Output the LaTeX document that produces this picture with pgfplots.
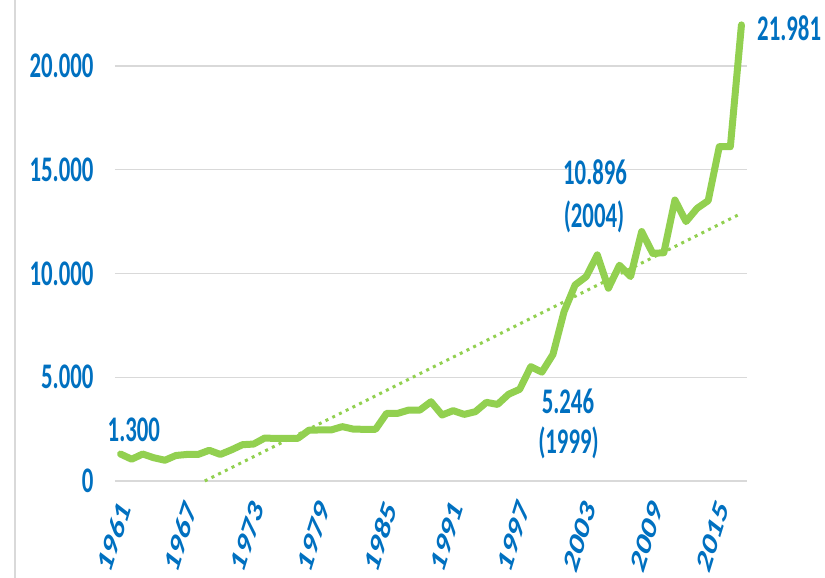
\documentclass[border=0pt]{standalone}
\usepackage{graphicx}
\usepackage{fontspec}
\setmainfont{Carlito}
\usepackage{pgfplots}
\pgfplotsset{compat=1.18}
\definecolor{lblue}{HTML}{0070C0}
\definecolor{lgreen}{HTML}{92D050}
\definecolor{gridc}{HTML}{D9D9D9}
\newcommand\st[1]{\scalebox{1}[1.58]{#1}}
\newcommand\xl[1]{\scalebox{1}[1.58]{\rotatebox{64}{#1}}}
\begin{document}
\begin{tikzpicture}
\useasboundingbox (0,0) rectangle (825pt,578pt);
\draw[gridc, line width=1.5pt] (15pt,0) -- (15pt,578pt);
\begin{axis}[
  at={(115pt,97pt)}, anchor=south west,
  scale only axis, width=632pt, height=481pt,
  xmin=1960.5, xmax=2017.5, ymin=0, ymax=23180,
  clip=false,
  axis line style={draw=none},
  tick style={draw=none},
  major tick length=0pt,
  ymajorgrids, grid style={gridc, line width=1.3pt},
  ytick={0,5000,10000,15000,20000},
  yticklabels={\st{0},\st{5.000},\st{10.000},\st{15.000},\st{20.000}},
  xtick={1961,1967,1973,1979,1985,1991,1997,2003,2009,2015},
  xticklabels={\xl{1961},\xl{1967},\xl{1973},\xl{1979},\xl{1985},\xl{1991},\xl{1997},\xl{2003},\xl{2009},\xl{2015}},
  every tick label/.append style={font=\fontsize{22.8}{24}\selectfont\bfseries, text=lblue},
  yticklabel style={anchor=east, xshift=-18pt},
  xticklabel style={anchor=north east, inner sep=0pt, xshift=11pt, yshift=-17pt},
]
\addplot[lgreen, line width=3pt, dash pattern=on 3pt off 4.5pt] coordinates {(1968.6,0) (2017,12900)};
\addplot[lgreen, line width=7pt, line join=round, line cap=round] coordinates {
(1961,1300)(1962,1050)(1963,1300)(1964,1120)(1965,1000)(1966,1230)(1967,1280)(1968,1280)
(1969,1480)(1970,1280)(1971,1500)(1972,1750)(1973,1780)(1974,2070)(1975,2050)(1976,2050)
(1977,2060)(1978,2450)(1979,2460)(1980,2460)(1981,2620)(1982,2500)(1983,2490)(1984,2490)
(1985,3260)(1986,3260)(1987,3420)(1988,3420)(1989,3820)(1990,3180)(1991,3390)(1992,3210)
(1993,3340)(1994,3790)(1995,3690)(1996,4180)(1997,4420)(1998,5510)(1999,5246)(2000,6100)
(2001,8160)(2002,9450)(2003,9850)(2004,10896)(2005,9290)(2006,10400)(2007,9850)(2008,12020)
(2009,10970)(2010,11000)(2011,13540)(2012,12500)(2013,13140)(2014,13510)(2015,16110)(2016,16110)
(2017,21981)};
\begin{scope}[every node/.style={font=\fontsize{22.8}{24}\selectfont\bfseries, text=lblue, inner sep=0pt}]
\node at (axis cs:1962.2,2458) {\st{1.300}};
\node at (axis cs:2001.35,3855) {\st{5.246}};
\node at (axis cs:2001.4,1831) {\st{(1999)}};
\node at (axis cs:2003.8,14892) {\st{10.896}};
\node at (axis cs:2003.7,12723) {\st{(2004)}};
\node at (axis cs:2021.3,21831) {\st{21.981}};
\end{scope}
\end{axis}
\end{tikzpicture}
\end{document}
